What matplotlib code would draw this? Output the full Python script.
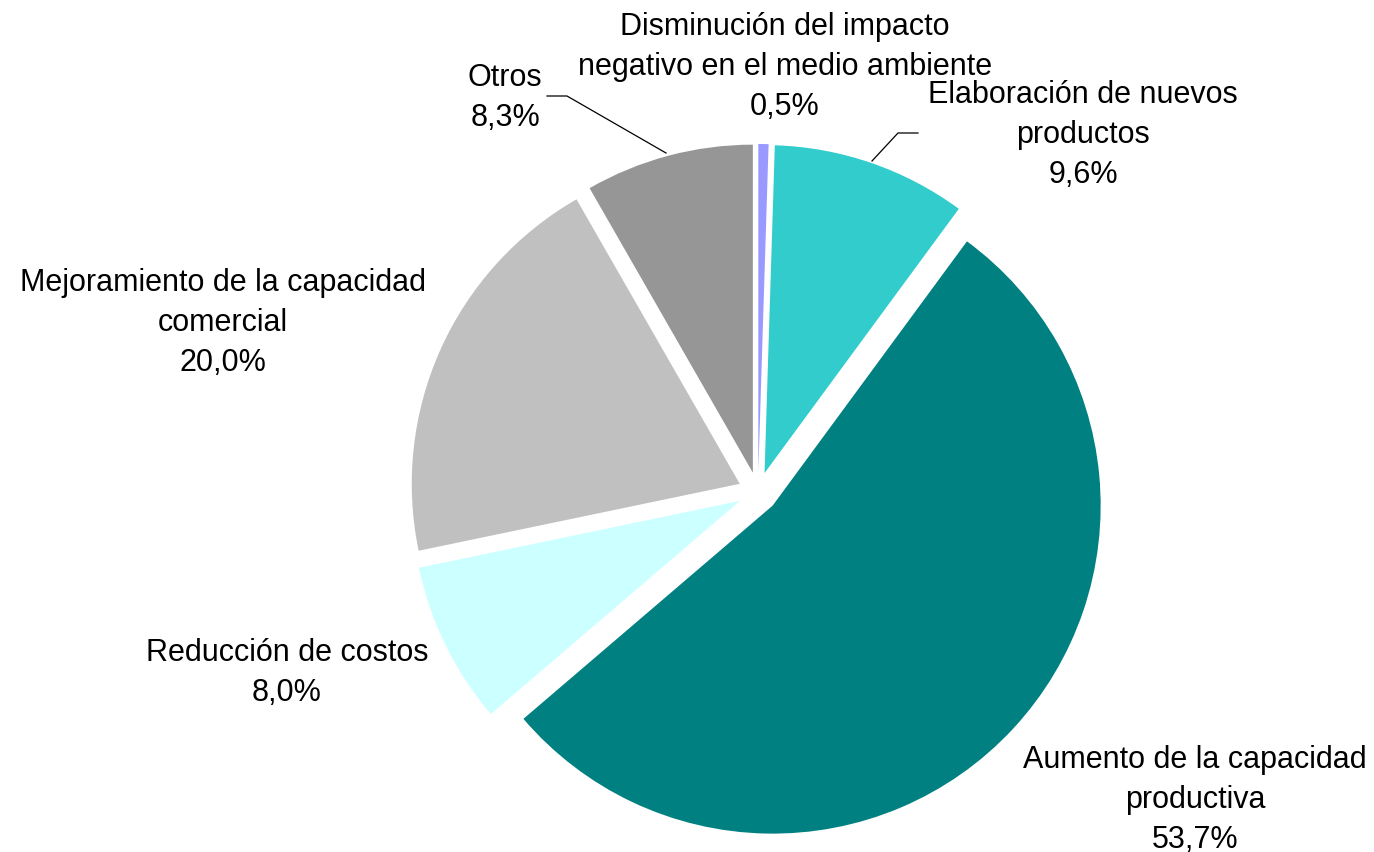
import matplotlib
matplotlib.use("Agg")
import matplotlib.pyplot as plt

categories = ["Disminución del impacto\nnegativo en el medio ambiente",
              "Elaboración de nuevos\nproductos",
              "Aumento de la capacidad\nproductiva",
              "Reducción de costos",
              "Mejoramiento de la capacidad\ncomercial",
              "Otros"]
values = [0.5, 9.6, 53.7, 8.0, 20.0, 8.3]
pct_labels = ["0,5%", "9,6%", "53,7%", "8,0%", "20,0%", "8,3%"]
colors = ["#9999FF", "#33CCCC", "#008080", "#CCFFFF", "#C0C0C0", "#969696"]

W, H = 1374, 853
fig = plt.figure(figsize=(W / 100, H / 100), dpi=100)
ax = fig.add_axes([0, 0, 1, 1])

cx, cy, r = 758, H - 493, 328
ax.pie(values, colors=colors, startangle=90, counterclock=False,
       radius=r, center=(cx, cy), explode=[20] * len(values),
       wedgeprops=dict(linewidth=0), frame=True)
ax.set_xlim(0, W)
ax.set_ylim(0, H)
ax.set_aspect("equal")
ax.axis("off")

label_pos = [(785, 67), (1083, 135), (1195, 800), (287, 673), (223, 323), (505, 98)]
fs = 22
for cat, pct, (x, y) in zip(categories, pct_labels, label_pos):
    ax.text(x, H - y, cat + "\n" + pct, ha="center", va="center", fontsize=fs,
            family="Liberation Sans", linespacing=1.42, color="black")

# leader lines
ax.plot([547, 567, 666], [H - 97, H - 97, H - 154], color="black", lw=0.9)
ax.plot([918, 898, 872], [H - 134, H - 134, H - 162], color="black", lw=0.9)

fig.savefig("out.png", dpi=100)
